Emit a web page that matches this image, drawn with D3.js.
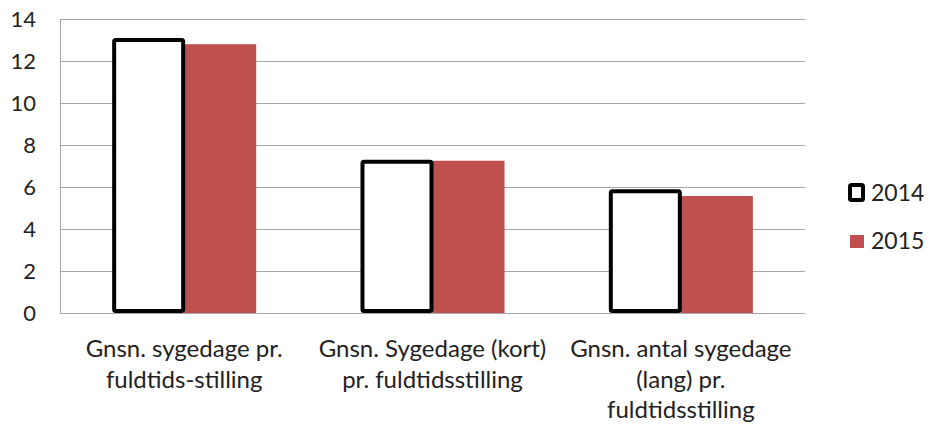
<!DOCTYPE html>
<html><head><meta charset="utf-8">
<script src="https://cdn.jsdelivr.net/npm/d3@7"></script>
<style>body{margin:0;background:#fff}svg{display:block}</style>
</head><body>
<svg id="c" width="930" height="431"></svg>
<script>
const categories = [
  ["Gnsn. sygedage pr.", "fuldtids-stilling"],
  ["Gnsn. Sygedage (kort)", "pr. fuldtidsstilling"],
  ["Gnsn. antal sygedage", "(lang) pr.", "fuldtidsstilling"]
];
const series = ["2014", "2015"];
const values2014 = [13.0, 7.2, 5.8];
const values2015 = [12.8, 7.25, 5.57];
const yTicks = [0, 2, 4, 6, 8, 10, 12, 14];

const svg = d3.select("#c");
const L = 60, R = 805, T = 19, B = 313;
const FONT = "Lato, Carlito, Calibri, 'Liberation Sans', sans-serif";
const y = d3.scaleLinear().domain([0, 14]).range([B, T]);
const x = d3.scaleBand().domain(d3.range(categories.length)).range([L, R]).paddingInner(0.42).paddingOuter(0.21);
const xs = d3.scaleBand().domain(series).range([0, x.bandwidth()]);
const grid = "#a6a6a6";

// gridlines
svg.append("g").selectAll("line").data(yTicks).join("line")
  .attr("x1", L).attr("x2", R).attr("y1", d => y(d) + 0.5).attr("y2", d => y(d) + 0.5)
  .attr("stroke", grid).attr("stroke-width", 1);
svg.append("line").attr("x1", L + 0.5).attr("x2", L + 0.5).attr("y1", T).attr("y2", B + 1)
  .attr("stroke", grid);

// y tick labels
svg.append("g").selectAll("text").data(yTicks).join("text")
  .attr("x", 36).attr("y", d => y(d)).attr("dy", "0.36em").attr("text-anchor", "end")
  .attr("font-family", FONT).attr("font-size", 22).attr("fill", "#222")
  .text(d => d);

// bars
const data = categories.map((c, i) => ({i, v14: values2014[i], v15: values2015[i]}));
svg.append("g").selectAll("rect").data(data).join("rect")
  .attr("x", d => x(d.i) + xs("2015")).attr("y", d => y(d.v15))
  .attr("width", xs.bandwidth()).attr("height", d => y(0) - y(d.v15))
  .attr("fill", "#c0504d");
svg.append("g").selectAll("rect").data(data).join("rect")
  .attr("x", d => x(d.i) + xs("2014") + 2).attr("y", d => y(d.v14))
  .attr("width", xs.bandwidth() - 3).attr("height", d => y(0) - y(d.v14) - 2)
  .attr("fill", "#fff").attr("stroke", "#000").attr("stroke-width", 4)
  .attr("stroke-linejoin", "round").attr("rx", 1.5);

// category labels
const cl = svg.append("g").selectAll("text").data(categories).join("text")
  .attr("text-anchor", "middle")
  .attr("font-family", FONT)
  .attr("font-size", 24).attr("fill", "#222")
  .attr("transform", (d, i) => `translate(${x(i) + x.bandwidth() / 2},${357})`);
cl.selectAll("tspan").data(d => d).join("tspan")
  .attr("x", 0).attr("y", (d, j) => j * 30.5).text(d => d);

// legend
const lg = svg.append("g");
lg.append("rect").attr("x", 850).attr("y", 185).attr("width", 13).attr("height", 15)
  .attr("fill", "#fff").attr("stroke", "#000").attr("stroke-width", 4).attr("rx", 1.5);
lg.append("rect").attr("x", 850).attr("y", 235).attr("width", 14).attr("height", 13)
  .attr("fill", "#c0504d");
lg.selectAll("text").data(series).join("text")
  .attr("x", 871).attr("y", (d, i) => 193 + i * 48).attr("dy", "0.36em")
  .attr("font-family", FONT).attr("font-size", 23).attr("fill", "#222")
  .text(d => d);
</script>
</body></html>
